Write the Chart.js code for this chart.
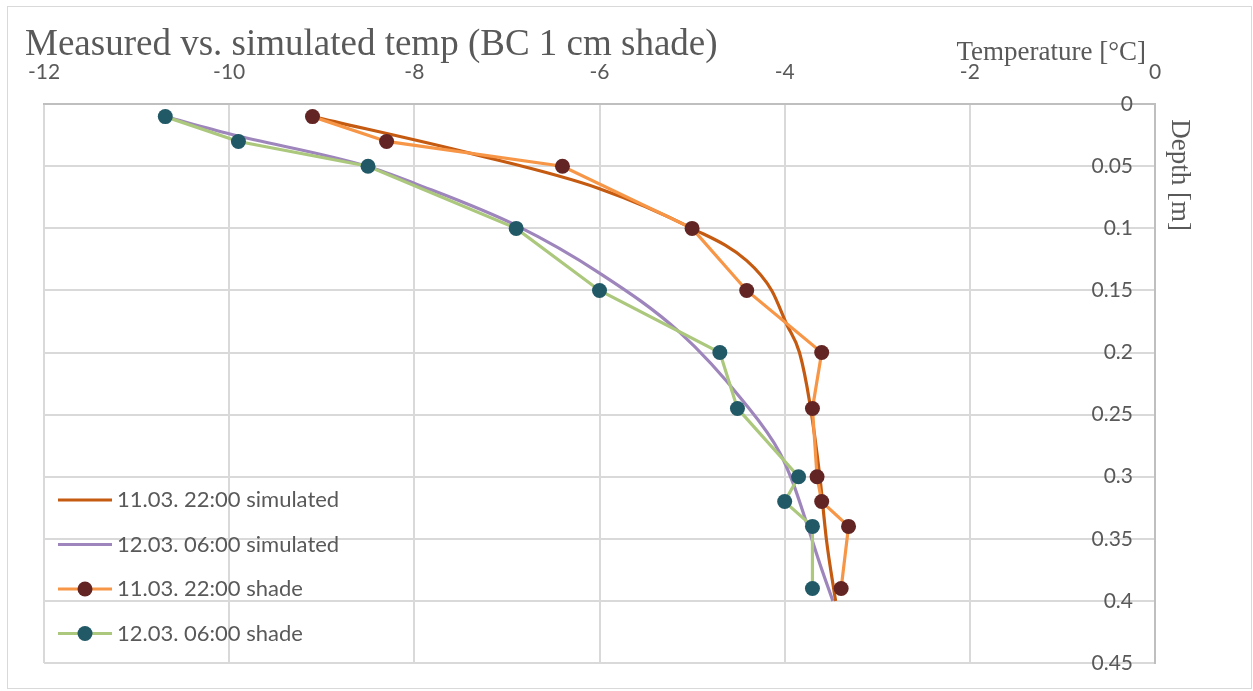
<!DOCTYPE html>
<html>
<head>
<meta charset="utf-8">
<script src="https://cdn.jsdelivr.net/npm/chart.js@4.4.1/dist/chart.umd.min.js"></script>
<style>
  html, body { margin: 0; padding: 0; background: #fff; }
  #wrap { position: relative; width: 1253px; height: 691px; }
  #frame { position: absolute; left: 7px; top: 6px; right: 1px; bottom: 2px; border: 1px solid #d9d9d9; pointer-events: none; }
</style>
</head>
<body>
<div id="wrap">
  <canvas id="chart"></canvas>
  <div id="frame"></div>
</div>
<script>
// measured points (depth in m, temperature in °C)
const shadeDepth = [0.01, 0.03, 0.05, 0.1, 0.15, 0.2, 0.245, 0.3, 0.32, 0.34, 0.39];
const shade1103 = [-9.1, -8.3, -6.4, -5.0, -4.41, -3.6, -3.7, -3.65, -3.6, -3.31, -3.39];
const shade1203 = [-10.69, -9.9, -8.5, -6.9, -6.0, -4.7, -4.51, -3.85, -4.0, -3.7, -3.7];

// simulated profiles
const sim1103Depth = [0.01, 0.04, 0.068, 0.1, 0.126, 0.15, 0.177, 0.2, 0.24, 0.3, 0.35, 0.4];
const sim1103 = [-9.1, -7.37, -6.0, -5.0, -4.41, -4.14, -3.98, -3.84, -3.73, -3.62, -3.55, -3.45];
const sim1203Depth = [0.01, 0.024, 0.05, 0.064, 0.098, 0.136, 0.184, 0.239, 0.281, 0.305, 0.338, 0.37, 0.4];
const sim1203 = [-10.69, -9.99, -8.51, -7.99, -6.89, -6.0, -5.13, -4.45, -4.05, -3.91, -3.76, -3.62, -3.48];

const seriesNames = ['11.03. 22:00 simulated', '12.03. 06:00 simulated', '11.03. 22:00 shade', '12.03. 06:00 shade'];

const tempMin = -12, tempMax = 0, tempStep = 2;
const depthMin = 0, depthMax = 0.45, depthStep = 0.05;

const textGrey = '#595959';
const sansFont = 'Lato, "Open Sans", sans-serif';
const serifFont = '"Liberation Serif", "DejaVu Serif", serif';

function toPoints(temps, depths) {
    return temps.map((t, i) => ({ x: t, y: depths[i] }));
}

// draws the titles and the legend inside the plot (lines + markers)
const decorPlugin = {
    id: 'decor',
    afterDraw(chart) {
        const ctx = chart.ctx;
        const area = chart.chartArea;
        ctx.save();
        ctx.fillStyle = textGrey;

        ctx.font = '37px ' + serifFont;
        ctx.textAlign = 'left';
        ctx.textBaseline = 'alphabetic';
        ctx.fillText('Measured vs. simulated temp (BC 1 cm shade)', 25, 55);

        ctx.font = '27px ' + serifFont;
        ctx.textAlign = 'right';
        ctx.fillText('Temperature [°C]', area.right - 9, 60);

        ctx.save();
        ctx.translate(area.right + 17, area.top + 15);
        ctx.rotate(Math.PI / 2);
        ctx.textAlign = 'left';
        ctx.fillText('Depth [m]', 0, 0);
        ctx.restore();

        // legend
        const x0 = area.left + 14;
        const lineLen = 54;
        chart.data.datasets.forEach((ds, i) => {
            const y = area.bottom - 163 + i * 44.5;
            ctx.strokeStyle = ds.borderColor;
            ctx.lineWidth = 3;
            ctx.beginPath();
            ctx.moveTo(x0, y);
            ctx.lineTo(x0 + lineLen, y);
            ctx.stroke();
            if (ds.pointRadius > 0) {
                ctx.fillStyle = ds.pointBackgroundColor;
                ctx.beginPath();
                ctx.arc(x0 + lineLen / 2, y, ds.pointRadius, 0, Math.PI * 2);
                ctx.fill();
            }
            ctx.fillStyle = textGrey;
            ctx.font = '22px ' + sansFont;
            ctx.textAlign = 'left';
            ctx.textBaseline = 'middle';
            ctx.fillText(ds.label, x0 + lineLen + 5, y);
        });
        ctx.restore();
    }
};

const datasets = [
    {
        label: seriesNames[0],
        data: toPoints(sim1103, sim1103Depth),
        borderColor: '#C55A11',
        borderWidth: 3.2,
        pointRadius: 0,
        cubicInterpolationMode: 'monotone',
        showLine: true,
        order: 4
    },
    {
        label: seriesNames[1],
        data: toPoints(sim1203, sim1203Depth),
        borderColor: '#9E86BC',
        borderWidth: 3.2,
        pointRadius: 0,
        cubicInterpolationMode: 'monotone',
        showLine: true,
        order: 3
    },
    {
        label: seriesNames[2],
        data: toPoints(shade1103, shadeDepth),
        borderColor: '#F79646',
        borderWidth: 3.2,
        pointRadius: 7.5,
        pointBackgroundColor: '#632523',
        pointBorderWidth: 0,
        showLine: true,
        order: 2
    },
    {
        label: seriesNames[3],
        data: toPoints(shade1203, shadeDepth),
        borderColor: '#ABC87C',
        borderWidth: 3.2,
        pointRadius: 7.5,
        pointBackgroundColor: '#215967',
        pointBorderWidth: 0,
        showLine: true,
        order: 1
    }
];

new Chart(document.getElementById('chart'), {
    type: 'scatter',
    data: { datasets },
    options: {
        responsive: true,
        maintainAspectRatio: false,
        animation: false,
        layout: { padding: { top: 41, left: 44, right: 98, bottom: 28 } },
        plugins: {
            legend: { display: false },
            tooltip: { enabled: false }
        },
        scales: {
            x: {
                type: 'linear',
                position: 'top',
                min: tempMin,
                max: tempMax,
                ticks: {
                    stepSize: tempStep,
                    color: textGrey,
                    padding: 19,
                    font: { family: sansFont, size: 21 }
                },
                grid: { color: '#d9d9d9', lineWidth: 2, drawTicks: false },
                border: { color: '#bfbfbf', width: 2 }
            },
            y: {
                type: 'linear',
                position: 'right',
                reverse: true,
                min: depthMin,
                max: depthMax,
                ticks: {
                    stepSize: depthStep,
                    mirror: true,
                    padding: -22,
                    color: textGrey,
                    font: { family: sansFont, size: 21 },
                    callback: v => String(+v.toFixed(2))
                },
                grid: { color: '#d9d9d9', lineWidth: 2, drawTicks: false },
                border: { color: '#bfbfbf', width: 2 }
            }
        }
    },
    plugins: [decorPlugin]
});
</script>
</body>
</html>
